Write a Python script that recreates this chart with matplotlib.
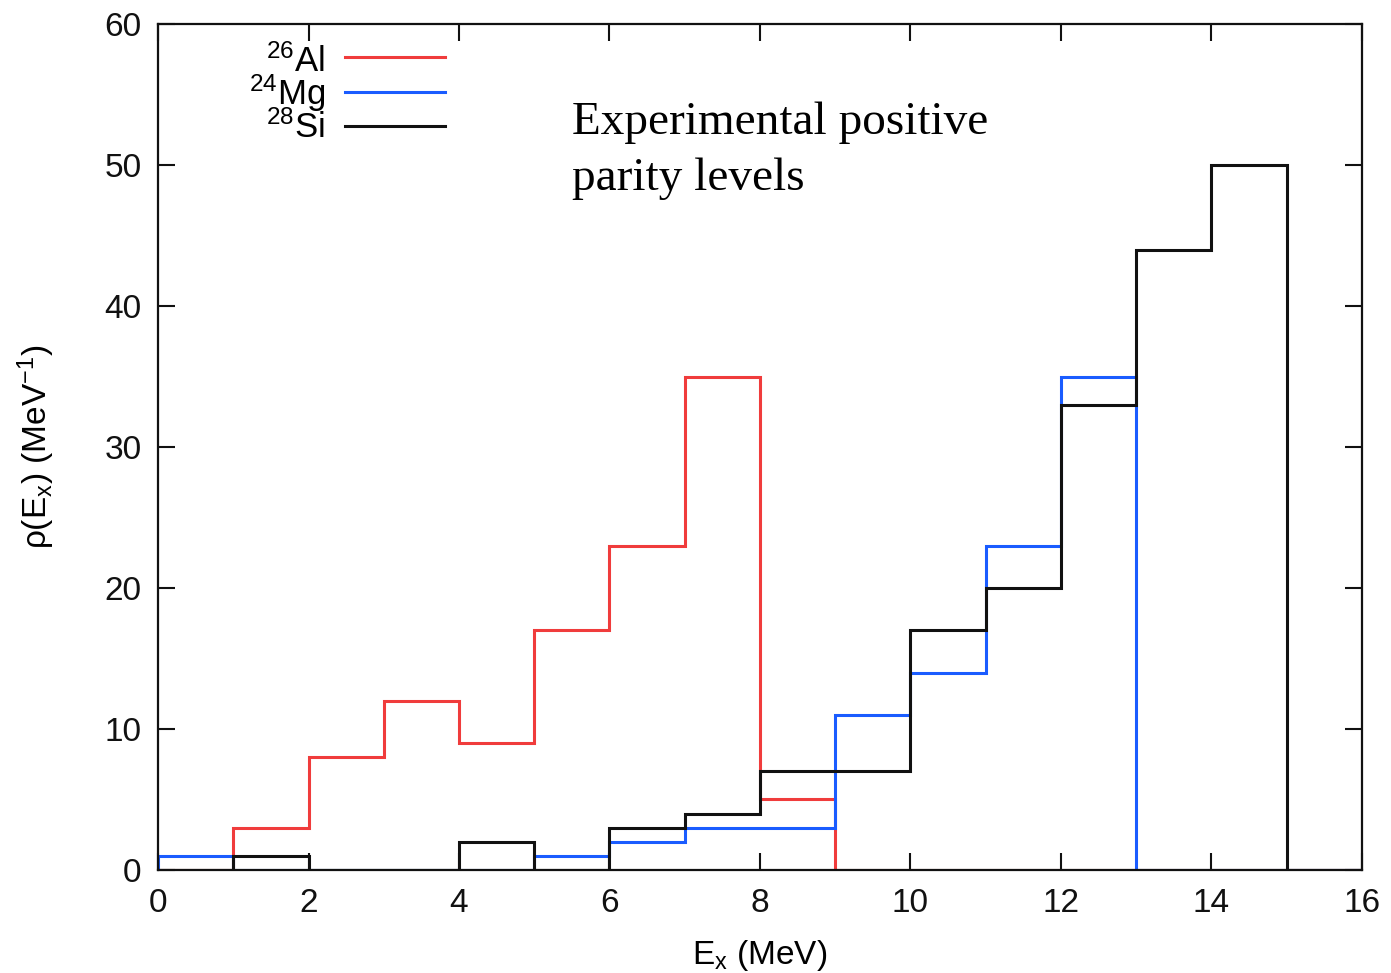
import numpy as np
import matplotlib
matplotlib.use('Agg')
import matplotlib.pyplot as plt

# level densities per 1 MeV bin (levels / MeV)
edges = np.arange(0, 17, 1)
al26 = [0, 3, 8, 12, 9, 17, 23, 35, 5, 0, 0, 0, 0, 0, 0, 0]
mg24 = [1, 0, 0, 0, 0, 1, 2, 3, 3, 11, 14, 23, 35, 0, 0, 0]
si28 = [0, 1, 0, 0, 2, 0, 3, 4, 7, 7, 17, 20, 33, 44, 50, 0]

labels = [r'$^{26}$Al', r'$^{24}$Mg', r'$^{28}$Si']
colors = ['#f03c3c', '#1a5cff', '#111111']

plt.rcParams['font.family'] = ['Liberation Sans', 'DejaVu Sans']
plt.rcParams['mathtext.default'] = 'regular'

fig = plt.figure(figsize=(13.91, 9.73), dpi=100)
ax = fig.add_axes([0.1136, 0.1059, 0.8655, 0.8694])

for vals, c in zip([al26, mg24, si28], colors):
    ax.stairs(vals, edges, color=c, lw=2.2, baseline=0)

ax.set_xlim(0, 16)
ax.set_ylim(0, 60)
ax.set_xticks(np.arange(0, 17, 2))
ax.set_yticks(np.arange(0, 61, 10))
ax.tick_params(direction='in', length=12, width=1.5, labelsize=24,
               top=True, right=True, colors='#111111')
ax.tick_params(axis='x', pad=13)
ax.tick_params(axis='y', pad=12)
for s in ax.spines.values():
    s.set_linewidth(1.6)
    s.set_color('#111111')

ax.set_xlabel(r'E$_x$ (MeV)', fontsize=24, labelpad=14)
ax.set_ylabel(r'$\rho$(E$_x$) (MeV$^{-1}$)', fontsize=24, labelpad=34)

# key in the upper left corner, text to the left of each sample line
line_y = [0.961, 0.920, 0.879]
text_y = [0.943, 0.905, 0.866]
for lab, c, ly, ty in zip(labels, colors, line_y, text_y):
    ax.text(0.139, ty, lab, transform=ax.transAxes, ha='right', va='baseline',
            fontsize=25)
    ax.plot([0.155, 0.238], [ly, ly], transform=ax.transAxes, color=c, lw=2.2)

ax.text(0.344, 0.804, 'Experimental positive\nparity levels',
        transform=ax.transAxes, fontsize=34, family='Liberation Serif',
        ha='left', va='baseline', linespacing=1.42)

fig.savefig('out.png', dpi=100)
